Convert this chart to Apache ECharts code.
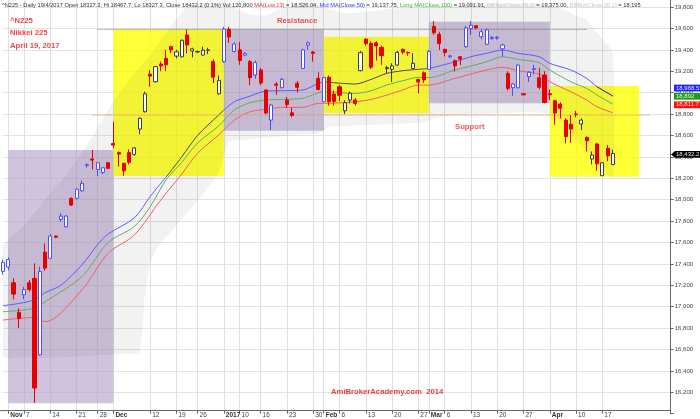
<!DOCTYPE html>
<html><head><meta charset="utf-8">
<script src="https://cdn.jsdelivr.net/npm/echarts@6/dist/echarts.min.js"></script>
<style>html,body{margin:0;padding:0;background:#fff}#c{width:700px;height:419px}</style>
</head><body><div id="c"></div>
<script>
const dates = [
'2016-10-31','2016-11-01','2016-11-02','2016-11-04','2016-11-07','2016-11-08','2016-11-09','2016-11-10','2016-11-11','2016-11-14','2016-11-15','2016-11-16','2016-11-17','2016-11-18','2016-11-21','2016-11-22','2016-11-24','2016-11-25','2016-11-28','2016-11-29','2016-11-30',
'2016-12-01','2016-12-02','2016-12-05','2016-12-06','2016-12-07','2016-12-08','2016-12-09','2016-12-12','2016-12-13','2016-12-14','2016-12-15','2016-12-16','2016-12-19','2016-12-20','2016-12-21','2016-12-22','2016-12-26','2016-12-27','2016-12-28','2016-12-29','2016-12-30',
'2017-01-04','2017-01-05','2017-01-06','2017-01-10','2017-01-11','2017-01-12','2017-01-13','2017-01-16','2017-01-17','2017-01-18','2017-01-19','2017-01-20','2017-01-23','2017-01-24','2017-01-25','2017-01-26','2017-01-27','2017-01-30','2017-01-31',
'2017-02-01','2017-02-02','2017-02-03','2017-02-06','2017-02-07','2017-02-08','2017-02-09','2017-02-10','2017-02-13','2017-02-14','2017-02-15','2017-02-16','2017-02-17','2017-02-20','2017-02-21','2017-02-22','2017-02-23','2017-02-24','2017-02-27','2017-02-28',
'2017-03-01','2017-03-02','2017-03-03','2017-03-06','2017-03-07','2017-03-08','2017-03-09','2017-03-10','2017-03-13','2017-03-14','2017-03-15','2017-03-16','2017-03-17','2017-03-20','2017-03-21','2017-03-22','2017-03-23','2017-03-24','2017-03-27','2017-03-28','2017-03-29','2017-03-30','2017-03-31',
'2017-04-03','2017-04-04','2017-04-05','2017-04-06','2017-04-07','2017-04-10','2017-04-11','2017-04-12','2017-04-13','2017-04-14','2017-04-17','2017-04-18','2017-04-19'];

const opens = [17330,17370,17224,16947,17110,17224,17265,16550,17510,17452,
17660,17816,17747,18013,18013,18083,18320,18380,18283,18255,
18345,18525,18440,18340,18440,18423,18660,18822,19173,19102,
19268,19320,19430,19342,19335,19539,19390,19380,19351,19395,
19290,18990,19290,19592,19385,19400,19350,19290,19165,19212,
19025,18744,19080,19046,18931,18812,19087,19227,19445,19380,
19134,18915,19143,18987,19055,18831,18931,18931,19206,19500,
19461,19466,19424,19225,19218,19258,19405,19375,19227,19124,
19186,19218,19618,19545,19405,19335,19298,19336,19430,19600,
19625,19523,19452,19505,19510,19410,19180,19046,19046,18990,
19149,19215,19139,19165,18990,18925,18893,18744,18704,18800,
18707,18582,18380,18520,18224,18480,18327.3];
const closes = [17415,17440,17118,16890,17160,17160,16240,17330,17360,17660,
17650,17847,17847,17950,18097,18153,18326,18370,18345,18298,
18293,18510,18426,18270,18350,18484,18760,18990,19155,19243,
19250,19260,19400,19382,19490,19445,19410,19385,19398,19400,
19145,19115,19594,19520,19455,19300,19365,19140,19280,19090,
18810,18884,19070,19125,18890,18787,19050,19400,19465,19368,
19030,19140,18915,18918,18976,18906,18995,18900,19374,19459,
19238,19437,19347,19234,19250,19377,19379,19371,19274,19100,
19119,19385,19560,19460,19375,19344,19250,19315,19605,19630,
19605,19570,19586,19515,19518,19445,19040,19081,19258,18980,
19190,19225,19050,18909,18980,18810,18855,18590,18660,18797,
18744,18550,18417,18335,18345,18410,18432.2];
const lows = [17300,17340,17070,16800,17070,17140,16100,16545,17335,17450,
17640,17794,17740,17940,18000,18075,18300,18283,18221,18240,
18285,18480,18310,18222,18330,18410,18610,18815,19055,19095,
19200,19200,19370,19320,19330,19367,19330,19370,19345,19360,
19090,18980,19280,19465,19375,19260,19340,19070,19130,19070,
18800,18650,18980,19040,18860,18770,19000,19220,19400,19290,
19020,18910,18880,18880,18920,18800,18900,18880,19200,19440,
19220,19300,19260,19180,19100,19250,19360,19345,19220,18995,
19090,19215,19540,19400,19340,19325,19200,19260,19420,19540,
19595,19500,19445,19495,19495,19340,19020,18970,19040,18975,
19100,19170,19030,18900,18930,18700,18760,18525,18530,18770,
18650,18450,18330,18270,18220,18360,18327.3];
const highs = [17440,17460,17265,16985,17185,17250,17405,17375,17590,17680,
17665,17873,17855,18020,18105,18180,18340,18464,18350,18305,
18350,18730,18450,18345,18470,18490,18770,19010,19212,19250,
19290,19400,19440,19400,19495,19592,19420,19395,19430,19420,
19310,19160,19615,19615,19470,19475,19380,19305,19300,19230,
19030,18890,19100,19140,18960,18860,19110,19410,19480,19390,
19190,19150,19160,19020,19070,18930,19010,18950,19390,19510,
19480,19480,19440,19250,19275,19390,19410,19385,19370,19130,
19200,19400,19670,19570,19410,19355,19310,19340,19625,19670,
19630,19590,19600,19530,19530,19460,19200,19090,19265,18992,
19200,19260,19230,19200,19030,18930,18910,18760,18790,18830,
18760,18590,18450,18530,18350,18510,18467.7];

// Moving averages (bar index, value)
const maTopIdx = [0,3,6,8,11,15,18,20,25,28,31,34,37,41,42,44,47,50,53,57,60,61,67,70,73,76,79,81,86,89,92,95,98,102,104,108,111,113,116];
const maTopVal = [17010,17030,17065,17130,17200,17390,17580,17680,17830,18030,18210,18400,18600,18790,18837,18915,18968,19015,19018,19025,19087,19102,19081,19124,19180,19205,19218,19225,19289,19336,19368,19398,19368,19336,19274,19212,19134,19055,18968.5];
const maMidIdx = [0,6,8,15,20,25,28,31,34,37,41,44,47,50,53,57,60,61,67,70,73,76,79,81,86,89,92,95,98,102,104,108,111,113,116];
const maMidVal = [16953,16985,17046,17280,17600,17750,17934,18184,18350,18530,18688,18838,18906,18931,18937,18947,18999,19009,18993,19018,19071,19111,19143,19140,19212,19249,19289,19336,19311,19280,19212,19102,19040,18977,18892];
const maLowIdx = [0,6,8,15,20,25,30,34,37,41,44,47,50,53,57,60,61,67,70,73,76,79,81,86,89,92,95,98,102,104,108,111,113,116];
const maLowVal = [16875,16900,16860,17156,17500,17670,17997,18240,18433,18604,18744,18822,18844,18863,18863,18900,18900,18915,18937,18977,19025,19071,19071,19134,19174,19212,19237,19205,19174,19102,19009,18931,18868,18811.7];
const topDarkRanges = [[31,42],[61,81],[113,116]];

// Bollinger band (20,2)
const bbIdx = [0,4,8,12,16,20,24,26,27,28,29,32,35,38,41,43,46,50,55,60,62,66,70,75,80,82,86,90,95,100,104,107,109,111,113,116];
const bbTop = [17560,17760,18000,18230,18510,18840,19120,19240,19300,19350,19420,19630,19800,19830,19840,19830,19745,19720,19830,19830,19780,19740,19760,19790,19800,19810,19820,19830,19830,19830,19830,19770,19720,19680,19560,19375];
const bbBot = [16530,16525,16520,16530,16540,16550,16560,16570,17100,17400,17530,17700,17876,18050,18250,18540,18560,18580,18600,18620,18680,18690,18700,18710,18720,18760,18790,18800,18810,18820,18800,18700,18560,18460,18350,18195];

// Highlighted zones
const zoneFrom = [1,21,42,61,81,104];
const zoneTo = [21,42,61,81,104,121];
const zoneTop = [18464,19591,19591,19522,19663,19062];
const zoneBottom = [16097,18221,18644,18807,18900,18214];
const zoneKind = ['p','y','p','y','p','y'];

const resistanceLevel = 19591, resistanceFrom = 18, resistanceTo = 111;
const supportLevel = 18790, supportFrom = 17, supportTo = 123;

const tickIdx = [1,4,9,14,18,21,28,33,37,42,45,49,54,59,61,64,69,74,79,81,84,89,94,99,104,109,114];
const tickText = ['Nov','7','14','21','28','Dec','12','19','26','2017','10','16','23','30','Feb','6','13','20','27','Mar','6','13','20','27','Apr','10','17'];
const boldTicks = ['Nov','Dec','2017','Feb','Mar','Apr'];

const lastValues = [18968.5, 18892, 18811.7, 18432.2];
const lastTexts = ['18,968.5','18,892','18,811.7','18,432.2'];

const N_SLOTS = 128;
const cats = dates.concat(Array.from({length: N_SLOTS - dates.length}, (_, i) => 'pad' + i));
const labelMap = {}; tickIdx.forEach((t, k) => labelMap[t] = tickText[k]);
const inRange = (i, rs) => rs.some(r => i >= r[0] && i <= r[1]);
const yellowRanges = zoneFrom.map((f, k) => [f, zoneTo[k] - 1]).filter((r, k) => zoneKind[k] === 'y');

const BLUE = '#4b4bff', RED = '#e60000', DARK = '#3c3c3c';
const candleData = dates.map((d, i) => {
  const item = {value: [opens[i], closes[i], lows[i], highs[i]]};
  if (closes[i] > opens[i] && inRange(i, yellowRanges) && i !== 61) item.itemStyle = {borderColor: DARK, color: '#fff'};
  return item;
});
const pairs = (ix, vals) => ix.map((x, k) => [x, vals[k]]);
const topBlue = maTopIdx.map((x, k) => [x, topDarkRanges.some(r => x > r[0] && x < r[1]) ? null : maTopVal[k]]);
const topDark = maTopIdx.map((x, k) => [x, inRange(x, topDarkRanges) ? maTopVal[k] : null]);

const zonesData = zoneFrom.map((f, k) => [
  {xAxis: f, yAxis: zoneTop[k], itemStyle: {color: zoneKind[k] === 'y' ? 'rgba(255,255,0,0.78)' : 'rgba(178,158,200,0.62)'}},
  {xAxis: zoneTo[k], yAxis: zoneBottom[k]}
]);

const FONT = '"Liberation Sans", Arial, sans-serif';
const isTick = (i) => labelMap[i] !== undefined;
const chart = echarts.init(document.getElementById('c'), null, {renderer: 'canvas'});
const option = {
  animation: false,
  grid: {left: 3, right: 29.3, top: 0, bottom: 5.3, containLabel: false},
  xAxis: {
    type: 'category', data: cats, boundaryGap: false, offset: -3,
    axisLine: {lineStyle: {color: '#666', width: 1}},
    axisTick: {length: 3, interval: isTick, lineStyle: {color: '#666'}},
    axisLabel: {
      interval: isTick,
      formatter: (v, i) => { const t = labelMap[i]; if (t === undefined) return ''; return boldTicks.includes(t) ? '{b|' + t + '}' : '{n|' + t + '}'; },
      align: 'left', margin: 1, padding: [0, 0, 0, 2],
      rich: {b: {fontSize: 6.5, fontWeight: 'bold', color: '#333', fontFamily: FONT}, n: {fontSize: 6.5, color: '#444', fontFamily: FONT}}
    },
    splitLine: {show: true, interval: isTick, lineStyle: {color: '#e0e0e0', width: 1}}
  },
  yAxis: {
    type: 'value', position: 'right', min: 16000, max: 19866, interval: 200,
    axisLine: {show: true, lineStyle: {color: '#666'}},
    axisTick: {show: true, length: 3, lineStyle: {color: '#666'}},
    axisLabel: {fontSize: 6, color: '#444', margin: 4, fontFamily: FONT, showMaxLabel: false,
      formatter: v => (v < 16200 || v > 19800) ? '' : v.toLocaleString('en-US')},
    splitLine: {show: true, showMinLine: false, showMaxLine: false, lineStyle: {color: '#e3e3e3', width: 1}}
  },
  series: [
    {
      type: 'custom', name: 'BB', z: 1, silent: true, clip: true,
      data: [[0, 17000]], encode: {x: 0, y: 1},
      renderItem: (params, api) => {
        const pts = [];
        for (let k = 0; k < bbIdx.length; k++) pts.push(api.coord([bbIdx[k], bbTop[k]]));
        for (let k = bbIdx.length - 1; k >= 0; k--) pts.push(api.coord([bbIdx[k], bbBot[k]]));
        return {type: 'polygon', shape: {points: pts, smooth: 0.15}, style: {fill: 'rgba(0,0,0,0.05)'}};
      }
    },
    {
      type: 'line', name: 'zones', z: 2, silent: true, data: [[0, 15000]], symbol: 'none', lineStyle: {opacity: 0},
      markArea: {silent: true, animation: false, data: zonesData}
    },
    {type: 'line', name: 'Low MA', z: 3, data: pairs(maLowIdx, maLowVal), symbol: 'none', smooth: 0.3, lineStyle: {color: '#f06060', width: 1}},
    {type: 'line', name: 'Long MA', z: 3, data: pairs(maMidIdx, maMidVal), symbol: 'none', smooth: 0.3, lineStyle: {color: '#5fae5f', width: 1}},
    {type: 'line', name: 'Mid MA', z: 3, data: topBlue, symbol: 'none', smooth: 0.3, connectNulls: false, lineStyle: {color: '#5b5bff', width: 1}},
    {type: 'line', name: 'Mid MA dark', z: 3, data: topDark, symbol: 'none', smooth: 0.3, connectNulls: false, lineStyle: {color: '#4a4a4a', width: 1}},
    {type: 'line', name: 'Resistance', z: 3, silent: true, data: [[resistanceFrom, resistanceLevel], [resistanceTo, resistanceLevel]], symbol: 'none', lineStyle: {color: '#777', width: 1, type: [1, 1]}},
    {type: 'line', name: 'Support', z: 3, silent: true, data: [[supportFrom, supportLevel], [supportTo, supportLevel]], symbol: 'none', lineStyle: {color: '#f0a070', width: 1, type: [2, 1]}},
    {
      type: 'candlestick', name: '^N225', z: 4, barWidth: 3.6, clip: false, data: candleData,
      itemStyle: {color: '#fff', color0: RED, borderColor: BLUE, borderColor0: RED, borderWidth: 1}
    }
  ]
};
chart.setOption(option);

const yPx = v => chart.convertToPixel({yAxisIndex: 0}, v);
const boxColors = ['#2323ff', '#1e9a1e', '#ff1010', '#000000'];
const boxText = ['#dfe0ff', '#d8ffd8', '#ffd8d8', '#e0e0e0'];
const boxShift = [-8, -8, -8, 1];
const graphics = [];
graphics.push({type: 'line', z: 50, shape: {x1: 0, y1: 410.7, x2: 4, y2: 410.7}, style: {stroke: '#666', lineWidth: 1}});
lastValues.forEach((v, k) => {
  const y = yPx(v) + boxShift[k];
  if (k === 3) {
    graphics.push({type: 'polygon', z: 100, shape: {points: [[671, y], [675, y - 3.4], [700, y - 3.4], [700, y + 3.4], [675, y + 3.4]]}, style: {fill: boxColors[k]}});
  } else {
    graphics.push({type: 'rect', z: 100, shape: {x: 674, y: y - 3.4, width: 27, height: 6.8}, style: {fill: boxColors[k]}});
  }
  graphics.push({type: 'text', z: 101, x: 676, y: y, style: {text: lastTexts[k], fill: boxText[k], font: '6px ' + FONT, verticalAlign: 'middle'}});
});
const titleStyle = {fill: '#ee4848', font: 'bold 7.7px ' + FONT, verticalAlign: 'middle'};
graphics.push({type: 'text', z: 100, x: 10, y: 20.7, style: Object.assign({text: '^N225'}, titleStyle)});
graphics.push({type: 'text', z: 100, x: 10, y: 33.3, style: Object.assign({text: 'Nikkei 225'}, titleStyle)});
graphics.push({type: 'text', z: 100, x: 10, y: 46, style: Object.assign({text: 'April 19, 2017'}, titleStyle)});
graphics.push({type: 'text', z: 100, x: 277, y: 20.5, style: Object.assign({text: 'Resistance'}, titleStyle, {fill: '#e85050'})});
graphics.push({type: 'text', z: 100, x: 455, y: 127, style: Object.assign({text: 'Support'}, titleStyle, {fill: '#e85a5a'})});
graphics.push({type: 'text', z: 100, x: 331, y: 392, style: Object.assign({text: 'AmiBrokerAcademy.com  2014'}, titleStyle, {fill: '#e83c3c'})});
const HF = '5.7px ' + FONT;
graphics.push({type: 'text', z: 100, x: 2, y: 5, style: {
  text: '{a|^N225 - Daily 19/4/2017 Open 18327.3, Hi 18467.7, Lo 18327.3, Close 18432.2 (0.1%) Vol 120,800 }{r|MA(Low,13)}{a| = 18,526.04, }{b|Mid MA(Close,50)}{a| = 19,137.75, }{g|Long MA(Close,100)}{a| = 19,091.91, }{l|BBTop(Close,20,2)}{a| = 19,375.00, }{l|BBBot(Close,20,2)}{a| = 18,195}',
  verticalAlign: 'middle',
  rich: {
    a: {fill: '#333', font: HF},
    r: {fill: '#f03030', font: HF},
    b: {fill: '#3030ff', font: HF},
    g: {fill: '#30c030', font: HF},
    l: {fill: '#c8c8c8', font: HF}
  }
}});
chart.setOption({graphic: graphics});
</script>
</body></html>
